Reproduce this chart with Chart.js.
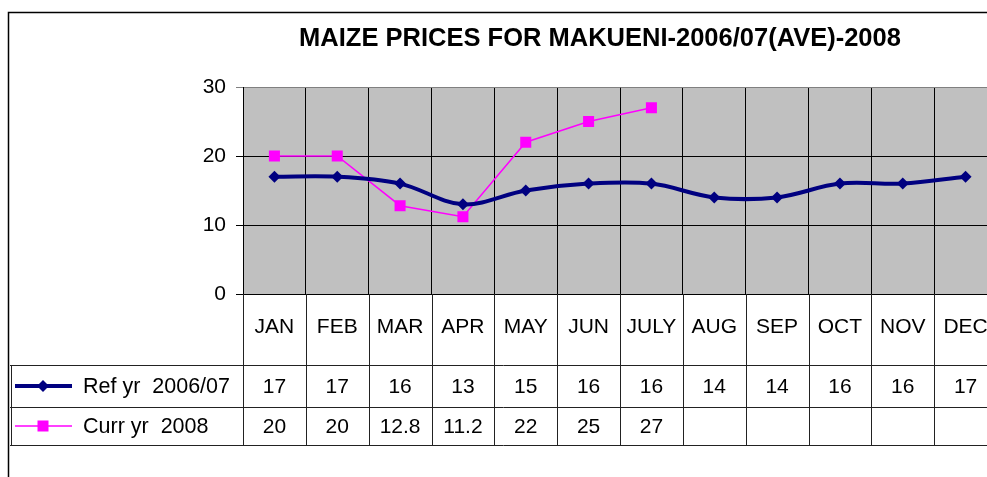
<!DOCTYPE html>
<html><head><meta charset="utf-8">
<script src="https://cdn.jsdelivr.net/npm/chart.js@4/dist/chart.umd.min.js"></script>
<style>
html,body{margin:0;padding:0;background:#fff;}
#wrap{position:relative;width:987px;height:477px;overflow:hidden;}
#c{position:absolute;left:0;top:0;}
</style></head><body>
<div id="wrap"><canvas id="c" width="1200" height="520" style="width:1200px;height:520px"></canvas></div>
<script>
const categories = ['JAN','FEB','MAR','APR','MAY','JUN','JULY','AUG','SEP','OCT','NOV','DEC'];
const refYr = [17,17,16,13,15,16,16,14,14,16,16,17];
const currYr = [20,20,12.8,11.2,22,25,27,null,null,null,null,null];
const seriesNames = ['Ref yr  2006/07','Curr yr  2008'];
const chartTitle = 'MAIZE PRICES FOR MAKUENI-2006/07(AVE)-2008';
const yMin = 0, yMax = 30, yStep = 10;

const FONT = 'Arial, "Liberation Sans", sans-serif';
const NAVY = '#000080', MAG = '#FF00FF';

const tablePlugin = {
  id: 'excelTable',
  beforeDraw(chart) {
    const ctx = chart.ctx, ca = chart.chartArea;
    ctx.save();
    ctx.fillStyle = '#fff';
    ctx.fillRect(0, 0, chart.width, chart.height);
    ctx.fillStyle = '#C0C0C0';
    ctx.fillRect(ca.left, ca.top, ca.right - ca.left, ca.bottom - ca.top);
    ctx.restore();
  },
  afterDraw(chart) {
    const ctx = chart.ctx, ca = chart.chartArea, xs = chart.scales.x;
    const n = chart.data.labels.length;
    const half = (xs.getPixelForValue(1) - xs.getPixelForValue(0)) / 2;
    const r0 = ca.bottom, r1 = 365, r2 = 407, r3 = 445;
    ctx.save();
    // title
    ctx.fillStyle = '#000';
    ctx.font = 'bold 25.5px ' + FONT;
    ctx.textAlign = 'center';
    ctx.textBaseline = 'middle';
    ctx.fillText(chartTitle, 600, 39);
    // table lines
    ctx.strokeStyle = '#222';
    ctx.lineWidth = 1;
    ctx.beginPath();
    for (let i = 0; i <= n; i++) {
      const x = Math.round(i < n ? xs.getPixelForValue(i) - half : xs.getPixelForValue(n - 1) + half) + 0.5;
      ctx.moveTo(x, r0); ctx.lineTo(x, r3);
    }
    [r1, r2, r3].forEach(y => { ctx.moveTo(10, y + 0.5); ctx.lineTo(ca.right, y + 0.5); });
    ctx.moveTo(11.5, r1); ctx.lineTo(11.5, r3);
    ctx.stroke();
    // header labels
    ctx.font = '21px ' + FONT;
    chart.data.labels.forEach((lab, i) => {
      ctx.fillText(lab, xs.getPixelForValue(i), 327);
    });
    // values
    const rowsY = [387, 427];
    chart.data.datasets.forEach((ds, k) => {
      ds.data.forEach((v, i) => {
        if (v !== null && v !== undefined) ctx.fillText(String(v), xs.getPixelForValue(i), rowsY[k]);
      });
    });
    // legend keys
    chart.data.datasets.forEach((ds, k) => {
      const y = rowsY[k] - 1;
      ctx.strokeStyle = ds.borderColor;
      ctx.lineWidth = ds.borderWidth;
      ctx.beginPath(); ctx.moveTo(15, y); ctx.lineTo(72, y); ctx.stroke();
      ctx.fillStyle = ds.pointBackgroundColor;
      ctx.beginPath();
      if (ds.pointStyle === 'rectRot') {
        const r = 6;
        ctx.moveTo(43, y - r); ctx.lineTo(43 + r, y); ctx.lineTo(43, y + r); ctx.lineTo(43 - r, y);
      } else {
        const s = 5.5;
        ctx.rect(43 - s, y - s, 2 * s, 2 * s);
      }
      ctx.closePath(); ctx.fill();
      ctx.fillStyle = '#000';
      ctx.textAlign = 'left';
      ctx.font = '21.5px ' + FONT;
      ctx.fillText(ds.label, 83, rowsY[k]);
      ctx.font = '21px ' + FONT;
      ctx.textAlign = 'center';
    });
    // outer chart border
    ctx.strokeStyle = '#000';
    ctx.lineWidth = 1.5;
    ctx.beginPath();
    ctx.moveTo(8.5, chart.height); ctx.lineTo(8.5, 12.5); ctx.lineTo(chart.width, 12.5);
    ctx.stroke();
    ctx.restore();
  }
};

new Chart(document.getElementById('c'), {
  type: 'line',
  data: {
    labels: categories,
    datasets: [
      { label: seriesNames[0], data: refYr, borderColor: NAVY, borderWidth: 4,
        pointStyle: 'rectRot', pointRadius: 6, pointBackgroundColor: NAVY, pointBorderColor: NAVY,
        pointBorderWidth: 0, tension: 0.35 },
      { label: seriesNames[1], data: currYr, borderColor: MAG, borderWidth: 1.5,
        pointStyle: 'rect', pointRadius: 7.8, pointBackgroundColor: MAG, pointBorderColor: MAG,
        pointBorderWidth: 0, tension: 0, spanGaps: false }
    ]
  },
  options: {
    responsive: false, animation: false, devicePixelRatio: 1,
    layout: { padding: { left: 0, top: 87, right: 203, bottom: 0 } },
    plugins: { legend: { display: false }, title: { display: false }, tooltip: { enabled: false } },
    scales: {
      x: {
        offset: true,
        grid: { offset: true, color: '#000', drawTicks: false, lineWidth: 1 },
        border: { color: '#000', width: 1 },
        ticks: { display: false },
        afterFit: s => { s.height = 226; }
      },
      y: {
        min: yMin, max: yMax,
        ticks: { stepSize: yStep, color: '#000', font: { family: FONT, size: 21 }, padding: 10 },
        grid: { color: c => (c.tick && c.tick.value === yMax) ? '#808080' : '#000', tickLength: 7, drawTicks: true, lineWidth: 1 },
        border: { color: '#000', width: 1 },
        afterFit: s => { s.width = 243; }
      }
    }
  },
  plugins: [tablePlugin]
});
</script>
</body></html>
